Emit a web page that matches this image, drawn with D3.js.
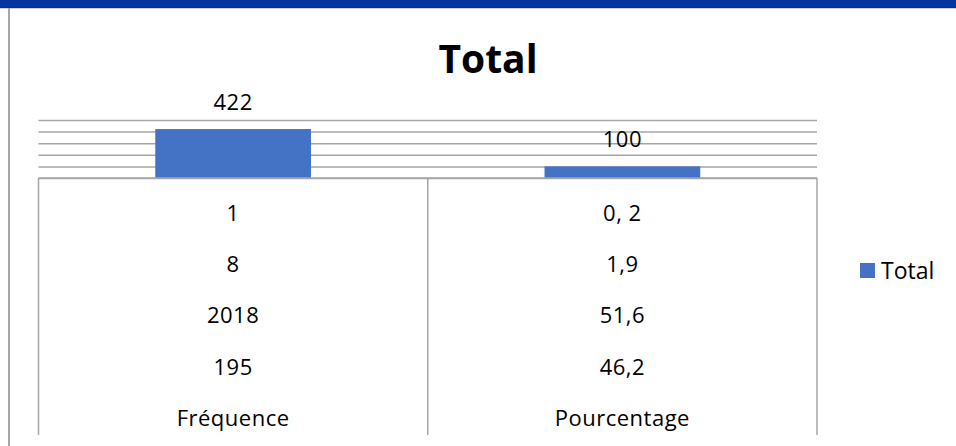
<!DOCTYPE html>
<meta charset="utf-8">
<style>
  body { margin: 0; background: #fff; }
  text { font-family: "Open Sans", Lato, sans-serif; fill: #000; }
</style>
<script src="https://d3js.org/d3.v7.min.js"></script>
<div id="chart"></div>
<script>

// data
var categories = ["Fréquence", "Pourcentage"];
var totals = [422, 100];
var row1 = ["1", "0, 2"];
var row2 = ["8", "1,9"];
var row3 = ["2018", "51,6"];
var row4 = ["195", "46,2"];
var yTicks = [0, 100, 200, 300, 400, 500];
var seriesName = "Total";

var W = 956, H = 446;
var plotLeft = 38.5, plotRight = 817, plotTop = 120, plotBase = 178;

var svg = d3.select("#chart").append("svg")
  .attr("width", W)
  .attr("height", H);

// window frame: blue band on top, grey border on the left
svg.append("rect").attr("x", 0).attr("y", 0).attr("width", W).attr("height", 8).attr("fill", "#0536a0");
svg.append("rect").attr("x", 0).attr("y", 7).attr("width", W).attr("height", 1).attr("fill", "#1a2a70");
svg.append("rect").attr("x", 0).attr("y", 8).attr("width", W).attr("height", 1).attr("fill", "#d0d0d8");
svg.append("rect").attr("x", 8).attr("y", 8).attr("width", 2).attr("height", H).attr("fill", "#a6a6a6");

// title
svg.append("text")
  .attr("x", 488).attr("y", 73)
  .attr("text-anchor", "middle")
  .style("font-size", "39px").style("font-weight", "bold")
  .text("Total");

var x = d3.scaleBand()
  .domain(categories)
  .range([plotLeft, plotRight])
  .paddingInner(0.6)
  .paddingOuter(0.3);

var y = d3.scaleLinear()
  .domain([0, 500])
  .range([plotBase, plotTop]);

// gridlines
svg.append("g")
  .attr("transform", "translate(" + plotLeft + ",0)")
  .call(d3.axisLeft(y).tickValues(yTicks).tickSize(-(plotRight - plotLeft)).tickFormat(""))
  .call(function (g) { g.select(".domain").remove(); })
  .selectAll("line")
    .attr("stroke", "#a6a6a6")
    .attr("stroke-width", 1.5);

// bars
svg.selectAll(".bar")
  .data(totals)
  .enter()
  .append("rect")
    .attr("class", "bar")
    .attr("x", function (d, i) { return x(categories[i]); })
    .attr("y", function (d) { return y(d); })
    .attr("width", x.bandwidth())
    .attr("height", function (d) { return y(0) - y(d); })
    .attr("fill", "#4472c4");

// value labels
svg.selectAll(".lbl")
  .data(totals)
  .enter()
  .append("text")
    .attr("x", function (d, i) { return x(categories[i]) + x.bandwidth() / 2; })
    .attr("y", function (d) { return y(d) - 19.5; })
    .attr("text-anchor", "middle")
    .style("font-size", "22px")
    .style("letter-spacing", "0.5px")
    .text(function (d) { return d; });

// multi-level category table under the axis
var step = x.step();
var edges = [plotLeft, plotLeft + step, plotLeft + 2 * step];
svg.selectAll(".sep")
  .data(edges)
  .enter()
  .append("line")
    .attr("x1", function (d) { return d; })
    .attr("x2", function (d) { return d; })
    .attr("y1", plotBase)
    .attr("y2", 435)
    .attr("stroke", "#a6a6a6")
    .attr("stroke-width", 1.5);

svg.append("line")
  .attr("x1", plotLeft).attr("x2", plotRight)
  .attr("y1", y(0)).attr("y2", y(0))
  .attr("stroke", "#a6a6a6")
  .attr("stroke-width", 1.5);

var rows = [row1, row2, row3, row4, categories];
var ry = d3.scalePoint()
  .domain(d3.range(rows.length))
  .range([213, 418]);

rows.forEach(function (r, k) {
  svg.selectAll(".row" + k)
    .data(r)
    .enter()
    .append("text")
      .attr("x", function (d, i) { return x(categories[i]) + x.bandwidth() / 2; })
      .attr("y", ry(k))
      .attr("dy", "0.36em")
      .attr("text-anchor", "middle")
      .style("font-size", "22px")
      .style("letter-spacing", "0.5px")
      .text(function (d) { return d; });
});

// legend
svg.append("rect")
  .attr("x", 860).attr("y", 263)
  .attr("width", 15).attr("height", 15)
  .attr("fill", "#4472c4");
svg.append("text")
  .attr("x", 881).attr("y", 270.5)
  .attr("dy", "0.36em")
  .style("font-size", "23px")
  .text(seriesName);

</script>
